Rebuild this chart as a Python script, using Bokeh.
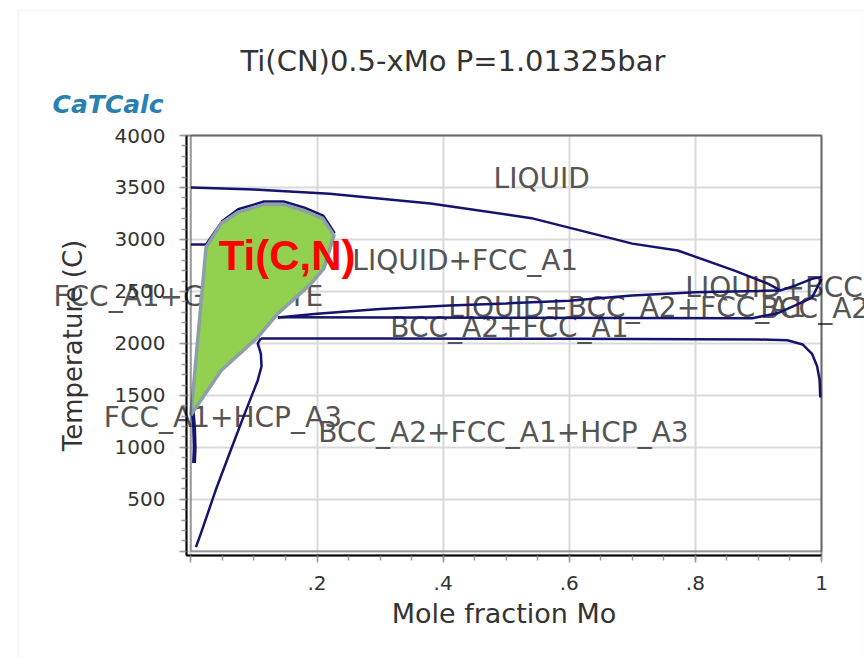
from bokeh.plotting import figure
from bokeh.models import Label, FixedTicker, BoxAnnotation
from bokeh.embed import file_html
from bokeh.resources import INLINE

# ---------------- data ----------------
# liquidus
liq_x = [0.0, 0.1, 0.22, 0.38, 0.54, 0.7, 0.772, 0.861, 0.914, 0.935, 0.96, 0.987, 1.0]
liq_T = [3500, 3480, 3440, 3345, 3205, 2960, 2894, 2702, 2577, 2510, 2560, 2625, 2640]

# upper boundary of LIQUID+BCC_A2+FCC_A1
l3_x = [0.138, 0.2, 0.3, 0.41, 0.5, 0.6, 0.7, 0.8, 0.9, 0.935]
l3_T = [2250, 2285, 2330, 2365, 2385, 2410, 2460, 2492, 2505, 2510]

# BCC_A2+FCC_A1 upper boundary and BCC solidus near Mo
bf_x = [0.138, 0.5, 0.89, 0.93, 0.96, 0.985, 1.0]
bf_T = [2252, 2248, 2243, 2290, 2370, 2440, 2620]

# BCC_A2+FCC_A1 lower boundary and BCC solvus near Mo
low_x = [0.111, 0.3, 0.6, 0.9, 0.946, 0.97, 0.985, 0.993, 0.997, 0.998]
low_T = [2048, 2048, 2045, 2038, 2030, 1990, 1900, 1780, 1650, 1480]

# HCP_A3 boundary curve
hcp_x = [0.008, 0.016, 0.04, 0.063, 0.085, 0.106, 0.112, 0.111, 0.106, 0.111]
hcp_T = [40, 175, 600, 970, 1320, 1644, 1780, 1900, 2000, 2048]

# line close to the pure Ti side
ti_x = [0.003, 0.005, 0.006, 0.005]
ti_T = [1340, 1200, 1000, 850]

# FCC liquidus (mostly hidden by the Ti(C,N) region)
fcc_x = [0.0, 0.024, 0.05, 0.075, 0.116, 0.147, 0.18, 0.21, 0.228]
fcc_T = [2952, 2952, 3178, 3290, 3365, 3365, 3305, 3228, 3060]

# Ti(C,N) highlighted region
tcn_x = [0.0, 0.024, 0.048, 0.074, 0.116, 0.147, 0.179, 0.209, 0.227, 0.211,
         0.195, 0.179, 0.138, 0.106, 0.048, 0.005]
tcn_T = [1308, 2923, 3154, 3260, 3337, 3337, 3279, 3202, 3038, 2721,
         2606, 2510, 2288, 2058, 1740, 1356]

# region labels: text, x, T
region_text = ["LIQUID", "LIQUID+FCC_A1", "FCC_A1+GRAPHITE", "LIQUID+BCC_A2+FCC_A1",
               "LIQUID+BCC_A2", "BCC_A2", "BCC_A2+FCC_A1", "FCC_A1+HCP_A3",
               "BCC_A2+FCC_A1+HCP_A3"]
region_x = [0.480, 0.256, -0.218, 0.408, 0.784, 0.903, 0.316, -0.138, 0.202]
region_T = [3585, 2796, 2450, 2344, 2536, 2335, 2152, 1286, 1142]

# axis ticks
x_ticks = [0.0, 0.2, 0.4, 0.6, 0.8, 1.0]
x_tick_labels = ["", ".2", ".4", ".6", ".8", "1"]
y_ticks = [0, 500, 1000, 1500, 2000, 2500, 3000, 3500, 4000]
y_tick_labels = ["", "500", "1000", "1500", "2000", "2500", "3000", "3500", "4000"]

# plot box (axis limits) and the view around it
X_LO, X_HI = -0.007, 1.0
T_LO, T_HI = -40, 4000
VIEW_X = (-0.30193, 1.06819)
VIEW_T = (-1030.8, 5298.6)

NAVY = "#14146e"
FONT = "DejaVu Sans"

p = figure(width=864, height=658, x_range=VIEW_X, y_range=VIEW_T,
           output_backend="svg", toolbar_location=None, title=None, min_border=0)
p.background_fill_color = "white"
p.border_fill_color = "white"
p.outline_line_color = None

xt = FixedTicker(ticks=x_ticks, minor_ticks=[i * 0.05 for i in range(21)])
yt = FixedTicker(ticks=y_ticks, minor_ticks=[i * 100 for i in range(41)])
p.xaxis.ticker = xt
p.yaxis.ticker = yt
p.xgrid.ticker = xt
p.ygrid.ticker = yt
p.xaxis.major_label_overrides = dict(zip(x_ticks, x_tick_labels))
p.yaxis.major_label_overrides = dict(zip(y_ticks, y_tick_labels))

p.xaxis.fixed_location = T_LO
p.yaxis.fixed_location = X_LO
p.xaxis.bounds = (X_LO, X_HI)
p.yaxis.bounds = (T_LO, T_HI)

p.xgrid.bounds = (0, 1)
p.ygrid.bounds = (0, 4000)
p.xgrid.cross_bounds = (T_LO, T_HI)
p.ygrid.cross_bounds = (X_LO, X_HI)
for g in (p.xgrid, p.ygrid):
    g.grid_line_color = "#d9d9d9"
    g.grid_line_width = 2

for ax in (p.xaxis, p.yaxis):
    ax.axis_line_color = "black"
    ax.axis_line_width = 2
    ax.major_tick_line_color = "#9a9a9a"
    ax.major_tick_line_width = 1.5
    ax.major_tick_in = 0
    ax.major_tick_out = 7
    ax.minor_tick_line_color = "#9a9a9a"
    ax.minor_tick_line_width = 1.5
    ax.minor_tick_in = 0
    ax.minor_tick_out = 5
    ax.major_label_text_font = FONT
    ax.major_label_text_font_size = "20px"
    ax.major_label_text_color = "#333333"
    ax.axis_label_text_font = FONT
    ax.axis_label_text_font_style = "normal"
    ax.axis_label_text_color = "#333333"

p.xaxis.axis_label = "Mole fraction Mo"
p.xaxis.axis_label_text_font_size = "27px"
p.xaxis.major_label_standoff = 14
p.xaxis.axis_label_standoff = 4
p.yaxis.axis_label = "Temperature (C)"
p.yaxis.axis_label_text_font_size = "26px"
p.yaxis.major_label_standoff = 14
p.yaxis.axis_label_standoff = 24

# outer light panel border
p.add_layout(BoxAnnotation(left=-0.2734, top=5202, fill_color=None,
                           line_color="#e2e2e2", line_width=1.5, level="underlay"))

# region labels (underneath lines and the highlighted region)
for t, x, y in zip(region_text, region_x, region_T):
    p.add_layout(Label(x=x, y=y, text=t, text_font=FONT, text_font_size="28px",
                       text_color="#555555", text_baseline="middle", text_align="left",
                       level="underlay"))

# phase boundaries
for xs, ys in [(liq_x, liq_T), (l3_x, l3_T), (bf_x, bf_T), (low_x, low_T),
               (hcp_x, hcp_T), (fcc_x, fcc_T)]:
    p.line(xs, ys, line_color=NAVY, line_width=2.5)
p.line(ti_x, ti_T, line_color=NAVY, line_width=4)

# Ti(C,N) region
p.patch(tcn_x, tcn_T, fill_color="#92d050", line_color="#8d9fa7", line_width=3.5)

# plot box: outer frame and inner lines at x=0, T=0
p.add_layout(BoxAnnotation(left=X_LO, right=X_HI, bottom=T_LO, top=T_HI, fill_color=None,
                           line_color="black", line_width=2))
p.add_layout(BoxAnnotation(left=0, right=X_HI, bottom=0, top=T_HI, fill_color=None,
                           line_color="black", line_width=2))

p.add_layout(Label(x=0.044, y=2844, text="Ti(C,N)", text_font="Liberation Sans",
                   text_font_style="bold", text_font_size="42px", text_color="#ff0000",
                   text_baseline="middle", text_align="left"))

# title and logo text
p.add_layout(Label(x=0.0786, y=4719, text="Ti(CN)0.5-xMo P=1.01325bar", text_font=FONT,
                   text_font_size="29px", text_color="#333333", text_baseline="middle",
                   text_align="left"))
p.add_layout(Label(x=-0.2193, y=4296, text="CaTCalc", text_font=FONT,
                   text_font_style="bold italic", text_font_size="25px",
                   text_color="#2a80b0", text_baseline="middle", text_align="left"))

open("out.html", "w").write(file_html(p, INLINE))
